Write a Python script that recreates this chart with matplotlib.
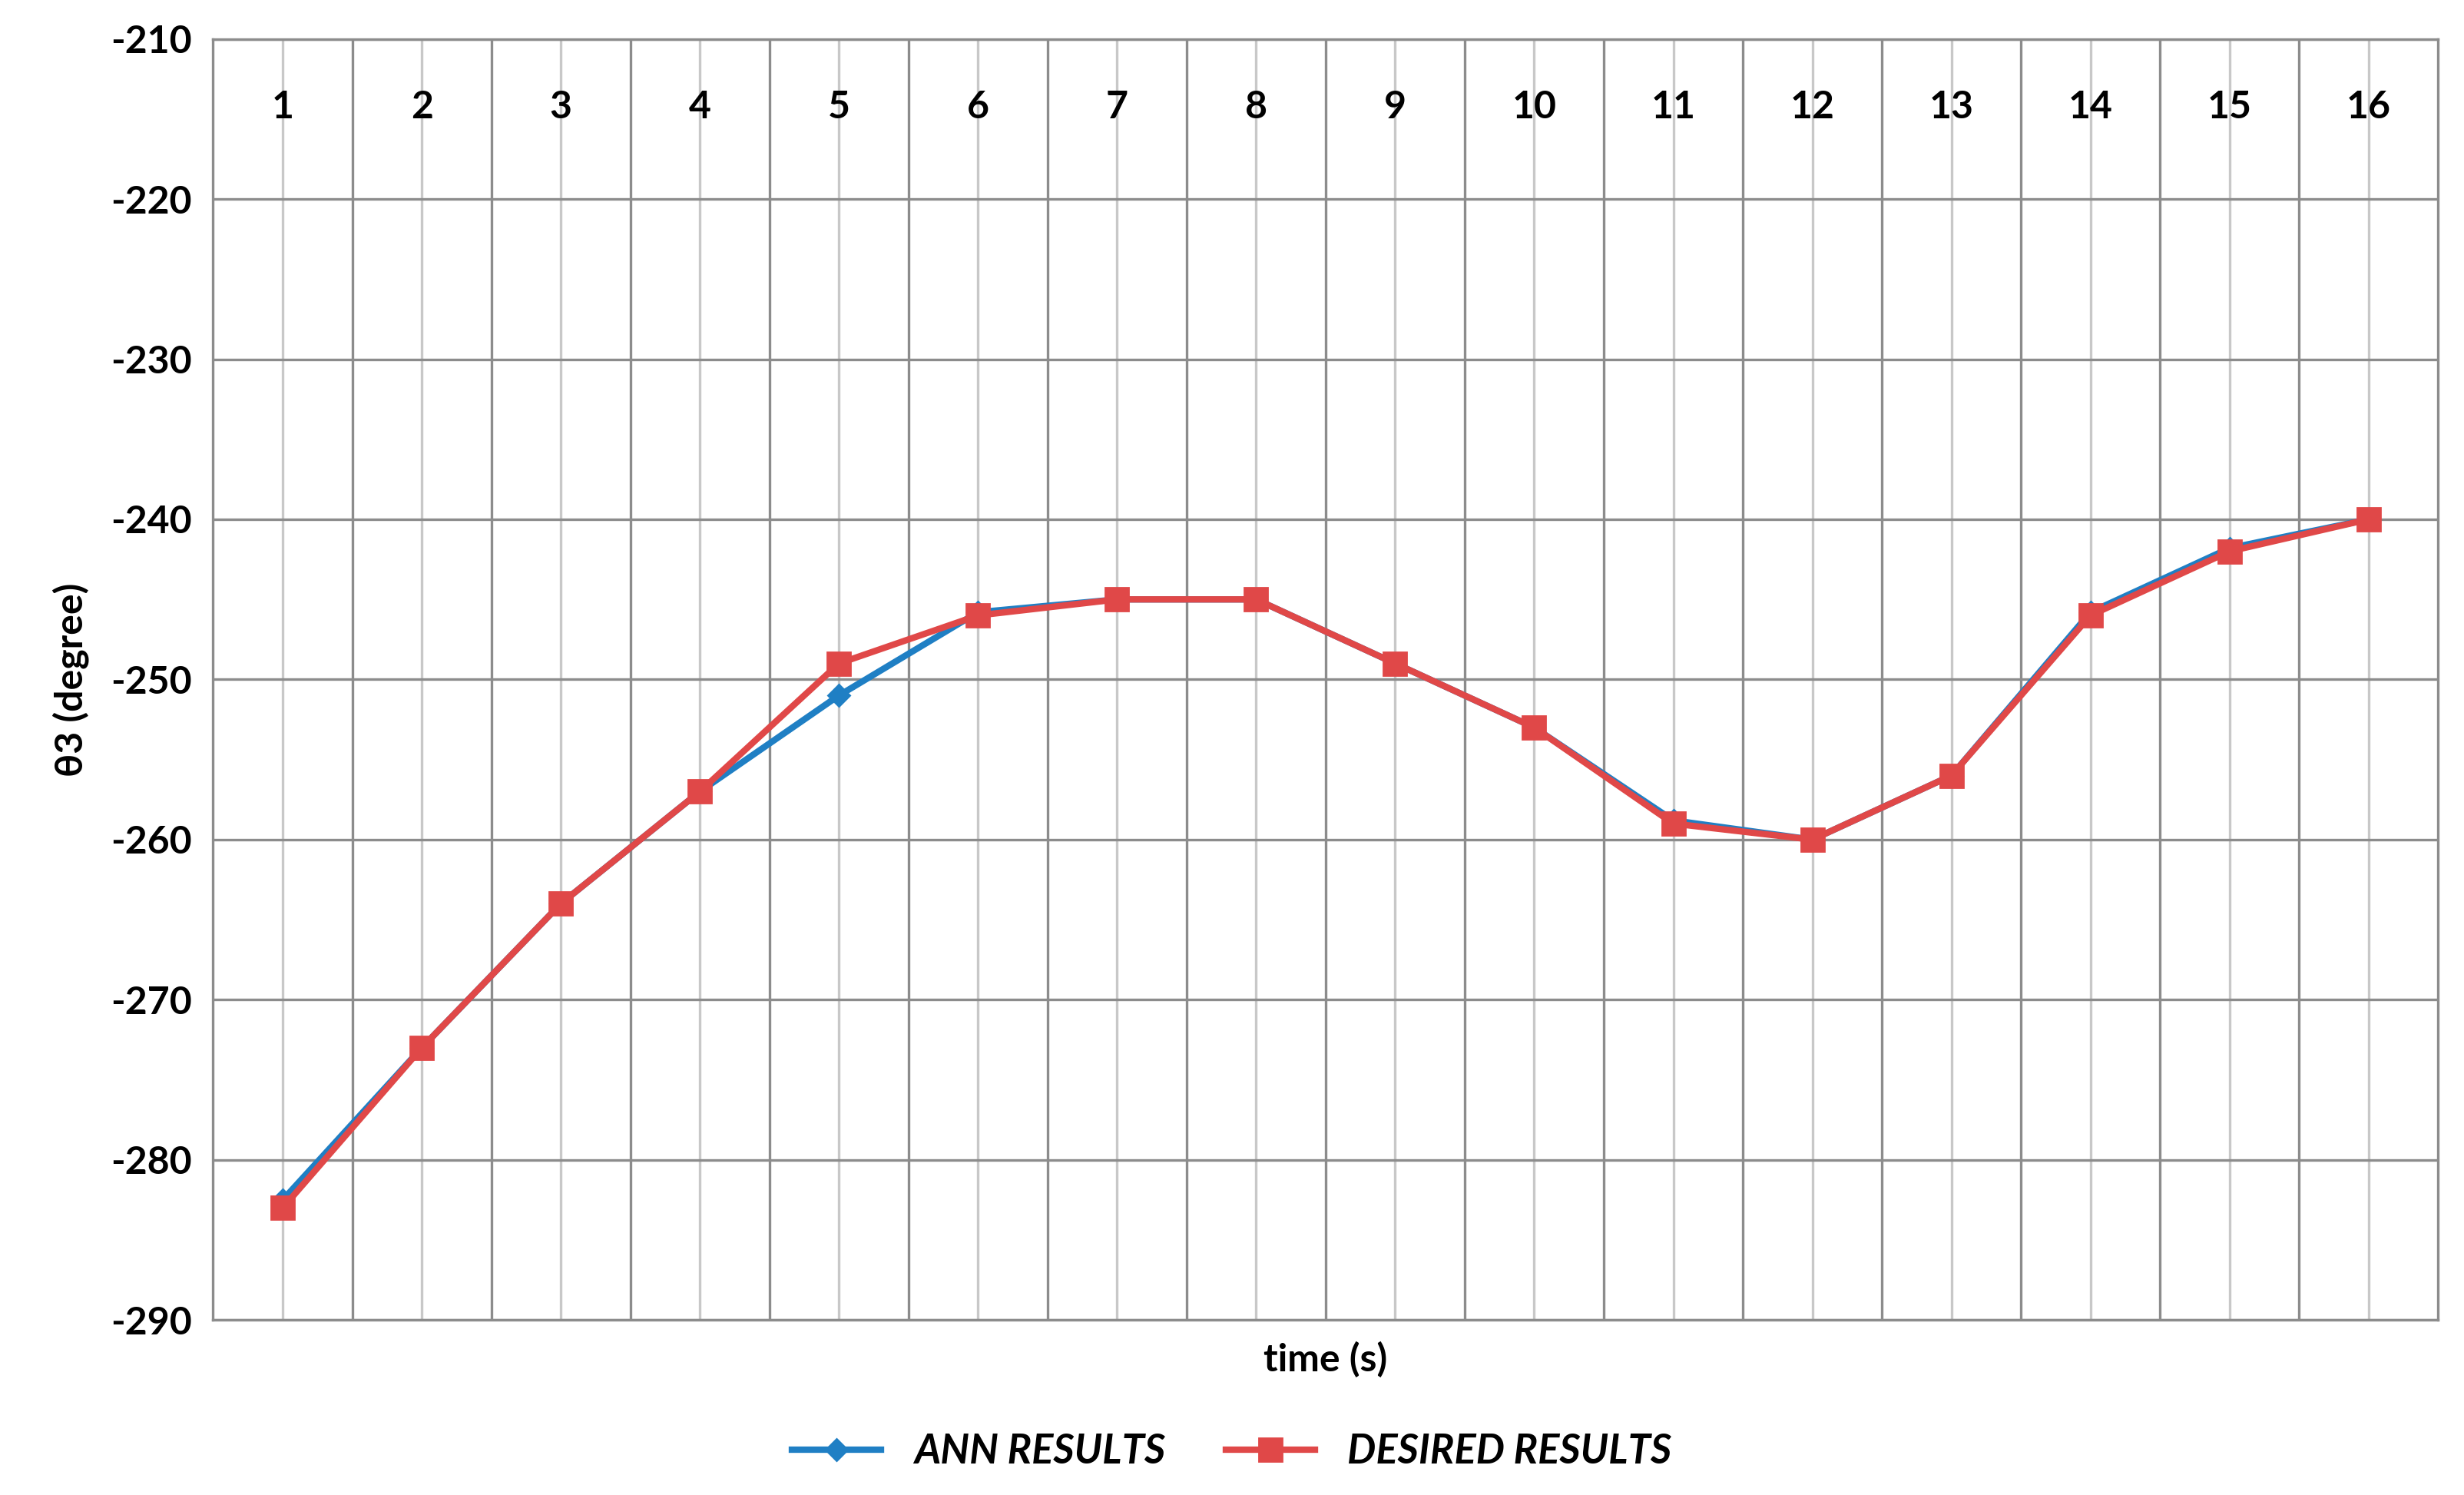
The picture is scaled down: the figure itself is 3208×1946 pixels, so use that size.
import matplotlib.pyplot as plt
import numpy as np

plt.rcParams["font.family"] = ["Lato", "DejaVu Sans"]

TIME = list(range(1, 17))
ANN = [-282.5, -273, -264, -257, -251, -245.8, -245, -245, -249, -253,
       -258.8, -260, -256, -245.8, -241.8, -240]
DESIRED = [-283, -273, -264, -257, -249, -246, -245, -245, -249, -253,
           -259, -260, -256, -246, -242, -240]
YTICKS = list(range(-290, -209, 10))


def main() -> None:
    fig = plt.figure(figsize=(16.04, 9.73), dpi=200)
    ax = fig.add_axes([0.0865, 0.117, 0.903, 0.857])

    x = np.array(TIME)
    ax.plot(x, ANN, color="#1f7fc4", linewidth=3, marker="D", markersize=7,
            label="ANN RESULTS", zorder=3)
    ax.plot(x, DESIRED, color="#e04848", linewidth=3, marker="s", markersize=11,
            label="DESIRED RESULTS", zorder=4)

    ax.set_xlim(0.5, 16.5)
    ax.set_ylim(-290, -210)
    ax.set_yticks(YTICKS)
    ax.set_yticklabels([str(v) for v in YTICKS], fontsize=18, fontweight="bold")

    # category boundaries (dark) and category centres (light)
    for b in np.arange(1.5, 16.5, 1):
        ax.axvline(b, color="#8c8c8c", linewidth=1.2, zorder=1)
    for c in x:
        ax.axvline(c, color="#c8c8c8", linewidth=1.2, zorder=1)
    ax.grid(axis="y", color="#8c8c8c", linewidth=1.2, zorder=1)

    ax.set_xticks(x)
    ax.set_xticklabels([str(t) for t in TIME], fontsize=18, fontweight="bold")
    ax.tick_params(axis="x", top=True, bottom=False, labeltop=True,
                   labelbottom=False, length=0, pad=-40)
    ax.tick_params(axis="y", length=0, pad=10)

    for side in ["left", "right", "top", "bottom"]:
        ax.spines[side].set_color("#8c8c8c")
        ax.spines[side].set_linewidth(1.2)

    ax.set_xlabel("time (s)", fontsize=18, fontweight="bold", labelpad=10)
    ax.set_ylabel("θ3 (degree)", fontsize=18, fontweight="bold", labelpad=10)

    fig.legend(loc="lower center", bbox_to_anchor=(0.50, -0.008), ncol=2,
               frameon=False, handlelength=2.2, columnspacing=1.5,
               prop={"size": 19, "weight": "bold", "style": "italic"})

    fig.savefig("out.png", dpi=200)


if __name__ == "__main__":
    main()
